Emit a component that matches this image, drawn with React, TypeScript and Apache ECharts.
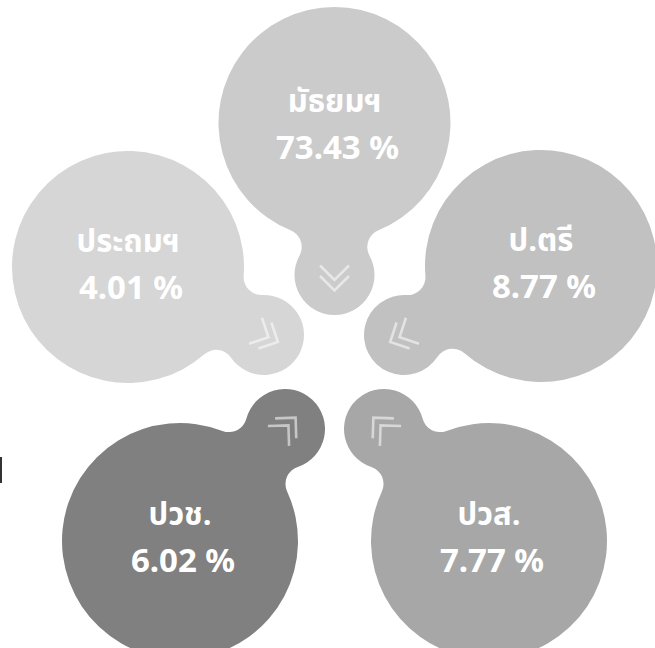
import React, { useEffect, useRef } from "react";
import * as echarts from "echarts";

// ---- data ----
const categories = ["มัธยมฯ", "ป.ตรี", "ปวส.", "ปวช.", "ประถมฯ"];
const values = [73.43, 8.77, 7.77, 6.02, 4.01];

// ---- layout / style (pixels of the 655x648 canvas) ----
const colors = ["#cbcbcb", "#c1c1c1", "#a7a7a7", "#808080", "#d6d6d6"];
const bigX = [334.5, 541, 489, 180, 128];
const bigY = [123, 266, 541, 541, 267];
const bigR = [116, 116, 118, 118, 116];
const smallX = [334.5, 404, 384, 285, 264];
const smallY = [275, 335, 429, 429, 335];
const smallR = [40, 40, 40, 40, 40];
const textDy = [0, -4, -5, -5, -4];

const FILLET = 18;

function bubblePath(x1: number, y1: number, R1: number, x2: number, y2: number, r2: number, rf: number) {
  const dx = x2 - x1, dy = y2 - y1;
  const d = Math.hypot(dx, dy);
  const ux = dx / d, uy = dy / d;
  const nx = -uy, ny = ux;
  const a = R1 + rf, b = r2 + rf;
  const t = (a * a - b * b + d * d) / (2 * d);
  const h = Math.sqrt(Math.max(a * a - t * t, 0));
  const Pp = [x1 + ux * t + nx * h, y1 + uy * t + ny * h];
  const Pm = [x1 + ux * t - nx * h, y1 + uy * t - ny * h];
  const T1p = [x1 + (Pp[0] - x1) * R1 / a, y1 + (Pp[1] - y1) * R1 / a];
  const T1m = [x1 + (Pm[0] - x1) * R1 / a, y1 + (Pm[1] - y1) * R1 / a];
  const T2p = [x2 + (Pp[0] - x2) * r2 / b, y2 + (Pp[1] - y2) * r2 / b];
  const T2m = [x2 + (Pm[0] - x2) * r2 / b, y2 + (Pm[1] - y2) * r2 / b];
  const f = (p: number[]) => `${p[0].toFixed(2)} ${p[1].toFixed(2)}`;
  return (
    `M ${f(T1p)} ` +
    `A ${R1} ${R1} 0 1 1 ${f(T1m)} ` +
    `A ${rf} ${rf} 0 0 0 ${f(T2m)} ` +
    `A ${r2} ${r2} 0 1 1 ${f(T2p)} ` +
    `A ${rf} ${rf} 0 0 0 ${f(T1p)} Z`
  );
}

export default function App() {
  const ref = useRef<HTMLDivElement>(null);
  useEffect(() => {
    if (!ref.current) return;
    const chart = echarts.init(ref.current, undefined, { renderer: "svg" });
    const data = categories.map((name, i) => ({
      name,
      value: [bigX[i], bigY[i], smallX[i], smallY[i], bigR[i], smallR[i], values[i]],
    }));
    const thaiFont = "'Noto Sans Thai', 'Noto Sans', 'DejaVu Sans', sans-serif";
    const numFont = "'Noto Sans', 'Open Sans', sans-serif";
    chart.setOption({
      animation: false,
      grid: { left: 0, right: 0, top: 0, bottom: 0 },
      xAxis: { type: "value", min: 0, max: 655, show: false },
      yAxis: { type: "value", min: 0, max: 648, inverse: true, show: false },
      tooltip: { show: false },
      graphic: [
        { type: "rect", left: 0, top: 457, shape: { width: 2, height: 26 }, style: { fill: "#333" } },
      ],
      series: [
        {
          type: "custom",
          coordinateSystem: "cartesian2d",
          data,
          renderItem: (params: any, api: any) => {
            const i = params.dataIndex;
            const c1 = api.coord([api.value(0), api.value(1)]);
            const c2 = api.coord([api.value(2), api.value(3)]);
            const R1 = api.size([api.value(4), 0])[0];
            const r2 = api.size([api.value(5), 0])[0];
            const v = api.value(6);
            const ang = Math.atan2(c2[1] - c1[1], c2[0] - c1[0]);
            const L = 14.5; // along-axis arm extent
            const tips = [15.5, 5];
            const chev = tips.map((tp) => ({
              type: "polyline",
              shape: {
                points: [
                  [tp - L, -L],
                  [tp, 0],
                  [tp - L, L],
                ],
              },
              style: { stroke: "rgba(255,255,255,0.55)", lineWidth: 2.6, fill: null, lineCap: "butt" },
            }));
            return {
              type: "group",
              children: [
                {
                  type: "path",
                  shape: { pathData: bubblePath(c1[0], c1[1], R1, c2[0], c2[1], r2, FILLET) },
                  style: { fill: colors[i] },
                },
                {
                  type: "group",
                  x: c2[0],
                  y: c2[1],
                  rotation: -ang,
                  children: chev,
                },
                {
                  type: "text",
                  style: {
                    text: categories[i],
                    x: c1[0],
                    y: c1[1] - 21 + textDy[i],
                    fill: "#ffffff",
                    fontSize: 31,
                    lineHeight: 32,
                    fontWeight: "bold",
                    fontFamily: thaiFont,
                    align: "center",
                    verticalAlign: "middle",
                  },
                },
                {
                  type: "text",
                  style: {
                    text: `${v.toFixed(2)} %`,
                    x: c1[0] + 3,
                    y: c1[1] + 23 + textDy[i],
                    fill: "#ffffff",
                    fontSize: 33,
                    lineHeight: 33,
                    fontWeight: "bold",
                    fontFamily: numFont,
                    align: "center",
                    verticalAlign: "middle",
                  },
                },
              ],
            };
          },
        },
      ],
    });
    return () => chart.dispose();
  }, []);
  return (
    <div
      ref={ref}
      style={{ position: "absolute", left: 0, top: 0, width: 655, height: 648 }}
    />
  );
}
